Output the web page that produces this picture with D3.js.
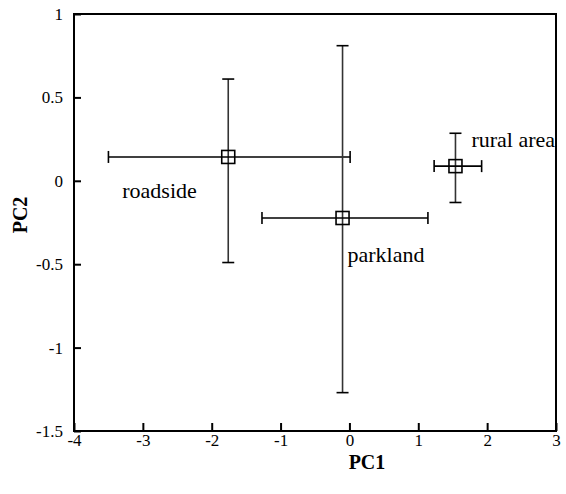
<!DOCTYPE html>
<html>
<head>
  <meta charset="utf-8"/>
  <script src="https://d3js.org/d3.v7.min.js"></script>
  <style>
    html, body { margin: 0; padding: 0; background: #fff; }
    svg text { font-family: 'Liberation Serif', 'Times New Roman', Times, serif; }
  </style>
</head>
<body>
  <div id="chart"></div>
  <script>
    // site data (means with error bars)
    const sites = ["roadside", "parkland", "rural area"];
    const pc1 = [-1.76, -0.10, 1.54];
    const pc1Low = [-3.50, -1.27, 1.23];
    const pc1High = [0.01, 1.14, 1.92];
    const pc2 = [0.143, -0.223, 0.088];
    const pc2Low = [-0.49, -1.27, -0.13];
    const pc2High = [0.61, 0.81, 0.285];

    const xTicks = [-4, -3, -2, -1, 0, 1, 2, 3];
    const yTicks = [-1.5, -1, -0.5, 0, 0.5, 1];

    const width = 566, height = 494;
    const margin = { top: 14, right: 10, bottom: 63, left: 74 };
    const iw = 556 - margin.left, ih = 431 - margin.top;
    const serif = "'Liberation Serif', 'Times New Roman', Times, serif";

    const svg = d3.select("#chart").append("svg")
      .attr("width", width)
      .attr("height", height);

    const g = svg.append("g")
      .attr("transform", `translate(${margin.left},${margin.top})`);

    const x = d3.scaleLinear().domain([-4, 3]).range([0, iw]);
    const y = d3.scaleLinear().domain([-1.5, 1]).range([ih, 0]);

    // frame
    g.append("rect")
      .attr("width", iw).attr("height", ih)
      .attr("fill", "none").attr("stroke", "#000").attr("stroke-width", 2);

    // plain hyphen minus like the original
    const fmt = d => String(d);

    // axes, ticks point inwards
    const xAxis = g.append("g")
      .attr("transform", `translate(0,${ih})`)
      .call(d3.axisBottom(x).tickValues(xTicks).tickSizeInner(-8).tickSizeOuter(0).tickPadding(3).tickFormat(fmt));
    const yAxis = g.append("g")
      .call(d3.axisLeft(y).tickValues(yTicks).tickSizeInner(-7).tickSizeOuter(0).tickPadding(11).tickFormat(fmt));

    [xAxis, yAxis].forEach(a => {
      a.attr("font-family", serif).attr("font-size", 17);
      a.select(".domain").remove();
      a.selectAll("line").attr("stroke", "#000").attr("stroke-width", 2);
      a.selectAll("text").attr("fill", "#000");
    });

    // axis titles (PC1 sits right of centre in the original)
    svg.append("text")
      .attr("x", 367).attr("y", 469)
      .attr("text-anchor", "middle")
      .attr("font-family", serif)
      .style("font-size", "20px").style("font-weight", "bold")
      .text("PC1");
    svg.append("text")
      .attr("transform", `translate(27,215) rotate(-90)`)
      .attr("text-anchor", "middle")
      .attr("font-family", serif)
      .style("font-size", "20px").style("font-weight", "bold")
      .text("PC2");

    const data = sites.map((s, i) => ({
      name: s, x: pc1[i], y: pc2[i],
      x0: pc1Low[i], x1: pc1High[i], y0: pc2Low[i], y1: pc2High[i]
    }));

    const cap = 6;
    const bars = g.selectAll(".site").data(data).enter().append("g").attr("class", "site");

    // vertical error bars
    bars.append("line")
      .attr("x1", d => x(d.x)).attr("x2", d => x(d.x))
      .attr("y1", d => y(d.y0)).attr("y2", d => y(d.y1))
      .attr("stroke", "#333").attr("stroke-width", 1.6);
    bars.append("line")
      .attr("x1", d => x(d.x) - cap).attr("x2", d => x(d.x) + cap)
      .attr("y1", d => y(d.y0)).attr("y2", d => y(d.y0))
      .attr("stroke", "#000").attr("stroke-width", 1.6);
    bars.append("line")
      .attr("x1", d => x(d.x) - cap).attr("x2", d => x(d.x) + cap)
      .attr("y1", d => y(d.y1)).attr("y2", d => y(d.y1))
      .attr("stroke", "#000").attr("stroke-width", 1.6);

    // horizontal error bars
    bars.append("line")
      .attr("x1", d => x(d.x0)).attr("x2", d => x(d.x1))
      .attr("y1", d => y(d.y)).attr("y2", d => y(d.y))
      .attr("stroke", "#000").attr("stroke-width", 1.6);
    bars.append("line")
      .attr("x1", d => x(d.x0)).attr("x2", d => x(d.x0))
      .attr("y1", d => y(d.y) - cap).attr("y2", d => y(d.y) + cap)
      .attr("stroke", "#000").attr("stroke-width", 1.6);
    bars.append("line")
      .attr("x1", d => x(d.x1)).attr("x2", d => x(d.x1))
      .attr("y1", d => y(d.y) - cap).attr("y2", d => y(d.y) + cap)
      .attr("stroke", "#000").attr("stroke-width", 1.6);

    // square markers
    bars.append("rect")
      .attr("x", d => x(d.x) - 6.5).attr("y", d => y(d.y) - 6.5)
      .attr("width", 13).attr("height", 13)
      .attr("fill", "none").attr("stroke", "#000").attr("stroke-width", 1.6);

    // site labels, offset from each marker
    const labelOffset = { "roadside": [-106, 41], "parkland": [5, 44], "rural area": [16, -19] };
    bars.append("text")
      .attr("x", d => x(d.x) + labelOffset[d.name][0])
      .attr("y", d => y(d.y) + labelOffset[d.name][1])
      .attr("font-family", serif)
      .style("font-size", "22px")
      .text(d => d.name);
  </script>
</body>
</html>
